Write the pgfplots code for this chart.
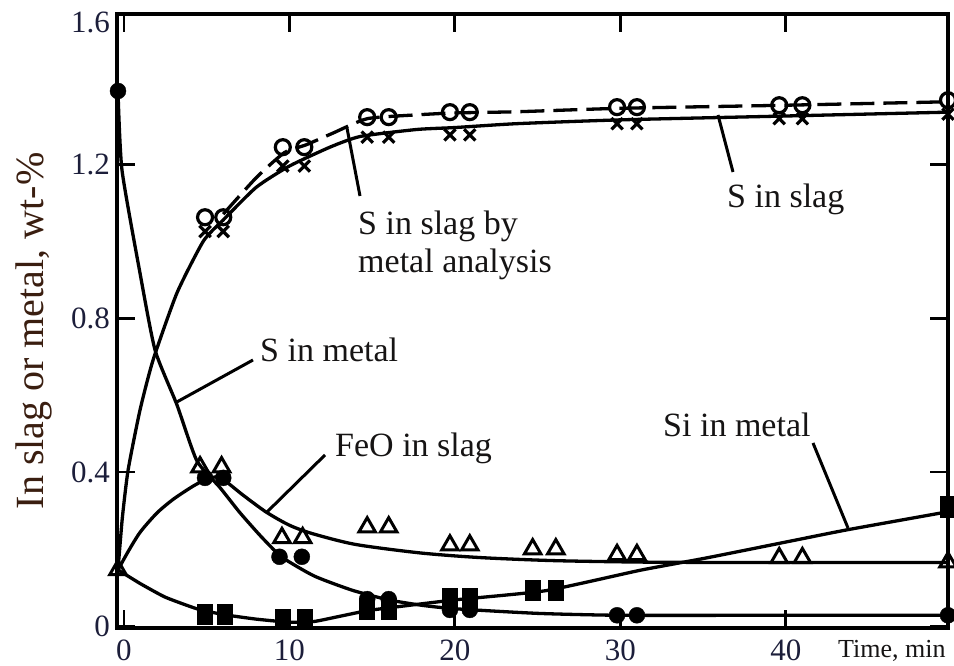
\documentclass[border=0pt]{standalone}
\usepackage{pgfplots}
\pgfplotsset{compat=1.18}
\usepackage{fontspec}
\setmainfont{Liberation Serif}

\definecolor{tickcol}{RGB}{28,30,58}
\definecolor{textcol}{RGB}{22,20,20}
\definecolor{ylabcol}{RGB}{58,30,16}

\begin{document}
\begin{tikzpicture}
\path[use as bounding box] (0pt,0pt) rectangle (954pt,666pt);
\begin{axis}[
  at={(117pt,38pt)}, anchor=south west,
  width=831pt, height=614pt, scale only axis,
  xmin=-0.42, xmax=49.8, ymin=-0.005, ymax=1.59,
  clip=false,
  axis line style={line width=3.6pt},
  tick align=inside, tick pos=both,
  major tick length=18pt,
  every tick/.style={black, line width=2.8pt},
  xtick={0,10,20,30,40},
  ytick={0,0.4,0.8,1.2},
  yticklabels={0,0.4,0.8,1.2},
  extra y ticks={1.569},
  extra y tick labels={1.6},
  extra y tick style={major tick length=0pt},
  /pgf/number format/assume math mode=true,
  ticklabel style={font=\fontsize{31}{33}\selectfont, text=tickcol},
  xticklabel style={anchor=north, inner sep=0pt, yshift=-12pt},
  yticklabel style={anchor=east, inner sep=0pt, xshift=-7pt},
]

% S in metal
\addplot[black, line width=3.3pt, smooth, tension=0.35] coordinates {
  (-0.36,1.39) (-0.12,1.185) (0.97,0.917) (1.88,0.717) (3.2,0.575) (4.4,0.43)
  (5.8,0.36) (7.0,0.295) (8.3,0.232) (9.55,0.179) (11.5,0.13) (13.8,0.093)
  (16.0,0.068) (18.0,0.054) (20.0,0.045) (25.0,0.033) (30.0,0.028) (40.0,0.028) (49.8,0.028)};

% FeO in slag
\addplot[black, line width=3.3pt, smooth, tension=0.45] coordinates {
  (-0.36,0.146) (0.3,0.197) (1.0,0.245) (2.0,0.294) (3.0,0.33) (4.2,0.364) (5.0,0.381)
  (5.8,0.386) (7.2,0.34) (8.6,0.296) (10.0,0.262) (11.4,0.24) (14.0,0.212)
  (17.9,0.19) (21.5,0.178) (26.0,0.17) (31.8,0.166) (40.0,0.165) (49.8,0.165)};

% Si in metal
\addplot[black, line width=3.3pt, smooth, tension=0.3] coordinates {
  (-0.36,0.146) (1.0,0.11) (2.5,0.075) (4.4,0.045) (6.0,0.03) (8.0,0.018)
  (10.0,0.01) (11.5,0.012) (13.0,0.025) (14.7,0.04) (16.5,0.05) (20.0,0.068)
  (25.5,0.092) (31.2,0.145) (35.2,0.177) (40.2,0.22) (43.7,0.25) (49.8,0.297)};

% S in slag
\addplot[black, line width=3.3pt, smooth, tension=0.35] coordinates {
  (-0.36,0.146) (-0.1,0.28) (0.25,0.405) (0.97,0.561) (1.76,0.691) (3.2,0.865)
  (4.8,1.0) (6.0,1.055) (8.0,1.14) (10.0,1.195) (12.5,1.245) (14.3,1.272)
  (17.7,1.29) (20.0,1.295) (23.7,1.305) (30.0,1.315) (40.0,1.325) (49.8,1.335)};

% S in slag by metal analysis
\addplot[black, line width=3.3pt, smooth, tension=0.35, dash pattern=on 24pt off 9pt] coordinates {
  (6.0,1.07) (8.0,1.165) (9.7,1.23) (11.0,1.25) (12.6,1.28) (14.7,1.318)
  (17.7,1.328) (20.0,1.333) (23.7,1.336) (30.0,1.345) (40.0,1.353) (49.8,1.362)};

% markers: S in slag (x)
\addplot[only marks, mark=x, mark size=8pt, black, mark options={line width=3.2pt}] coordinates {
  (4.9,1.025) (6.0,1.025) (9.6,1.195) (10.9,1.195) (14.7,1.27) (16.0,1.27)
  (19.7,1.276) (20.9,1.276) (29.8,1.305) (31.0,1.305) (39.6,1.318) (41.0,1.318) (49.8,1.33)};

% markers: S in slag by metal analysis (open circles)
\addplot[only marks, mark=o, mark size=7.5pt, black, mark options={fill=white, line width=3.2pt}] coordinates {
  (4.9,1.062) (6.0,1.062) (9.6,1.244) (10.9,1.244) (14.7,1.322) (16.0,1.322)
  (19.7,1.335) (20.9,1.335) (29.8,1.348) (31.0,1.348) (39.6,1.353) (41.0,1.353) (49.8,1.366)};

% markers: FeO in slag (open triangles)
\addplot[only marks, mark=triangle, mark size=9.5pt, black, mark options={fill=white, line width=3pt}] coordinates {
  (-0.36,0.146) (4.6,0.413) (5.9,0.413) (9.55,0.229) (10.8,0.229) (14.7,0.257) (16.0,0.257)
  (19.7,0.21) (20.9,0.21) (24.7,0.2) (26.1,0.2) (29.8,0.185) (31.0,0.185)
  (39.6,0.177) (41.0,0.177) (49.8,0.166)};

% markers: Si in metal (filled squares)
\addplot[only marks, mark=square*, mark size=7.5pt, black, mark options={yscale=1.35}] coordinates {
  (4.9,0.03) (6.1,0.03) (9.6,0.018) (10.9,0.018) (14.7,0.045) (16.0,0.045)
  (19.7,0.072) (20.9,0.072) (24.7,0.094) (26.1,0.094) (49.8,0.31)};

% markers: S in metal (filled circles)
\addplot[only marks, mark=*, mark size=8pt, black] coordinates {
  (-0.36,1.39) (4.9,0.385) (6.0,0.385) (9.4,0.18) (10.75,0.18) (14.7,0.07) (16.0,0.07)
  (19.7,0.042) (20.9,0.042) (29.8,0.028) (31.0,0.028) (49.8,0.028)};
\end{axis}

% leader lines
\draw[black, line width=3pt] (347pt,538pt) -- (360pt,470pt);
\draw[black, line width=3pt] (718pt,551pt) -- (733pt,494pt);
\draw[black, line width=3pt] (175pt,263pt) -- (253pt,306pt);
\draw[black, line width=3pt] (267pt,154pt) -- (325pt,211pt);
\draw[black, line width=3pt] (813pt,223pt) -- (848pt,138pt);

% curve labels
\begin{scope}[every node/.style={inner sep=0pt, text=textcol, font=\fontsize{34}{38}\selectfont}]
\node[anchor=base west] at (358pt,431pt) {S in slag by};
\node[anchor=base west] at (358pt,393pt) {metal analysis};
\node[anchor=base west] at (727pt,458pt) {S in slag};
\node[anchor=base west] at (260pt,304pt) {S in metal};
\node[anchor=base west] at (335pt,209pt) {FeO in slag};
\node[anchor=base west] at (663pt,229pt) {Si in metal};
\end{scope}
\node[anchor=base west, inner sep=0pt, text=textcol, font=\fontsize{26}{28}\selectfont] at (838pt,8pt) {Time, min};
\node[anchor=base, rotate=90, inner sep=0pt, text=ylabcol, font=\fontsize{40}{44}\selectfont] at (43pt,335pt) {In slag or metal, wt-\%};
\end{tikzpicture}
\end{document}
